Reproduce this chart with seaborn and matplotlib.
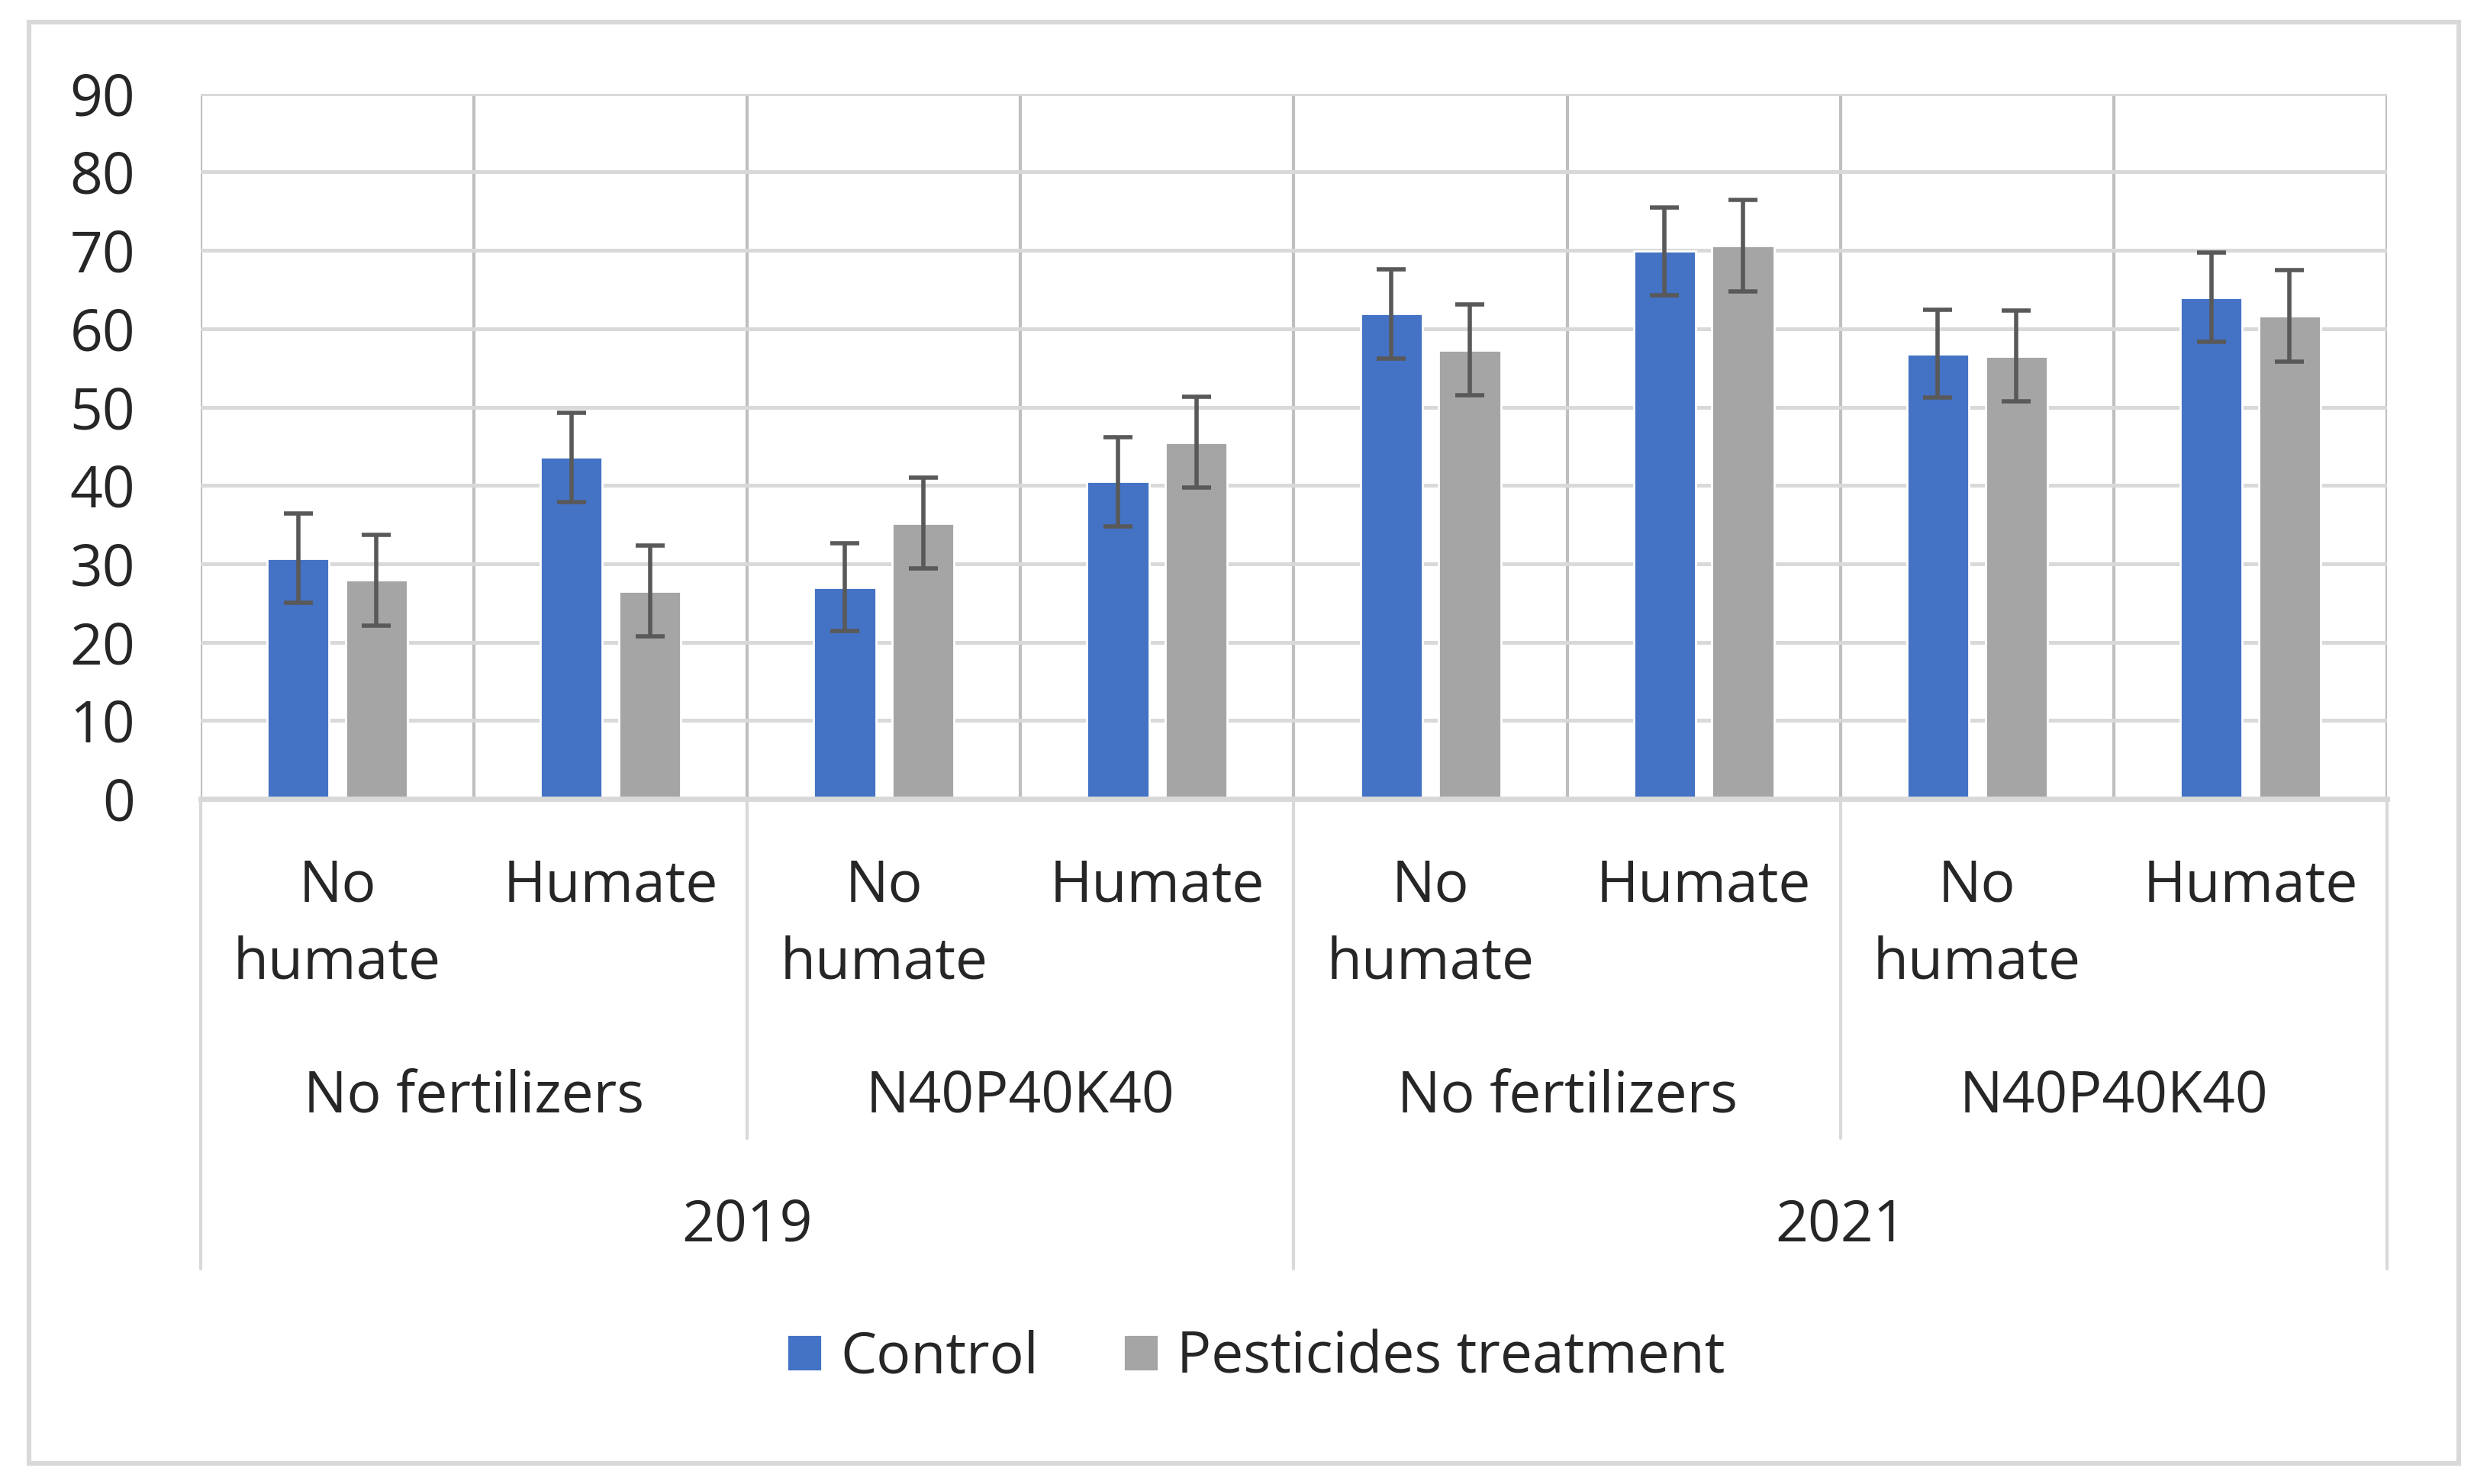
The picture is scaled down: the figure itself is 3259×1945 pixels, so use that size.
import numpy as np
import pandas as pd
import seaborn as sns
import matplotlib.pyplot as plt
from matplotlib.patches import Rectangle
import matplotlib.transforms as mtransforms

# data
years = ["2019", "2021"]
fertilizers = ["No fertilizers", "N40P40K40", "No fertilizers", "N40P40K40"]
humate_labels = ["No\nhumate", "Humate"] * 4
series = ["Control", "Pesticides treatment"]
control = [30.7, 43.6, 27.0, 40.5, 61.9, 69.9, 56.8, 64.0]
pesticides = [27.9, 26.5, 35.2, 45.5, 57.3, 70.6, 56.5, 61.6]
control_err = [5.7, 5.7, 5.6, 5.7, 5.7, 5.6, 5.6, 5.7]
pesticides_err = [5.8, 5.8, 5.75, 5.8, 5.8, 5.8, 5.8, 5.85]

slots = ["s%d" % i for i in range(len(control))]
df = pd.DataFrame({
    "slot": slots * 2,
    "value": control + pesticides,
    "series": [series[0]] * len(control) + [series[1]] * len(pesticides),
})

sns.set_theme(style="white")
plt.rcParams['font.family'] = ['Open Sans', 'DejaVu Sans']
fs = 27

fig = plt.figure(figsize=(16.295, 9.725), dpi=200)
ax = fig.add_axes([0.0807, 0.4617, 0.8791, 0.4752])

sns.barplot(data=df, x="slot", y="value", hue="series", order=slots, hue_order=series,
            palette=["#4472C4", "#A5A5A5"], width=0.574, gap=0.21, errorbar=None,
            saturation=1, ax=ax)

# error bars on top of each bar
for cont, err in zip(ax.containers, [control_err, pesticides_err]):
    xs = [b.get_x() + b.get_width() / 2 for b in cont]
    ys = [b.get_height() for b in cont]
    ax.errorbar(xs, ys, yerr=err, fmt='none', ecolor='#595959', elinewidth=2.0,
                capsize=6.7, capthick=2.0, zorder=3)

# legend below the chart
handles, labels = ax.get_legend_handles_labels()
ax.get_legend().remove()
fig.legend(handles, labels, loc='center', bbox_to_anchor=(0.505, 0.085), ncol=2,
           frameon=False, fontsize=fs, handlelength=0.61, handleheight=0.61,
           handletextpad=0.33, columnspacing=1.48)

# axes, grid
ax.set_xlim(-0.5, 7.5)
ax.set_ylim(0, 90)
ax.set_yticks(range(0, 91, 10))
ax.set_axisbelow(True)
ax.yaxis.grid(True, color='#d9d9d9', lw=1.8)
ax.set_xticks(np.arange(-0.5, 7.6, 0.5), minor=True)
ax.xaxis.grid(True, which='minor', color='#bfbfbf', lw=1.5)
ax.xaxis.grid(False, which='major')
ax.set_xticks(range(8))
ax.set_xticklabels(humate_labels)
for lab in ax.get_xticklabels():
    lab.set_linespacing(1.45)
ax.tick_params(axis='x', which='both', length=0, pad=28, labelsize=fs)
ax.tick_params(axis='y', length=0, pad=31, labelsize=fs)
ax.set_xlabel("")
ax.set_ylabel("")
for s in ["left", "top", "right"]:
    ax.spines[s].set_visible(False)
ax.spines["bottom"].set_color('#d9d9d9')
ax.spines["bottom"].set_linewidth(2.5)

# category separators below the axis
for x in [-0.5, 3.5, 7.5]:
    ax.axvline(x, ymin=-0.667, ymax=0, color='#d9d9d9', lw=1.5, clip_on=False)
for x in [1.5, 5.5]:
    ax.axvline(x, ymin=-0.482, ymax=0, color='#d9d9d9', lw=1.5, clip_on=False)

trans = mtransforms.blended_transform_factory(ax.transData, ax.transAxes)
for i, f in enumerate(fertilizers):
    ax.text(2 * i + 0.5, -0.423, f, transform=trans, ha='center', va='center', fontsize=fs)
for i, y in enumerate(years):
    ax.text(4 * i + 1.5, -0.606, y, transform=trans, ha='center', va='center', fontsize=fs)

# outer chart border
fig.add_artist(Rectangle((0.0118, 0.014), 0.977, 0.971, transform=fig.transFigure,
                         fill=False, ec='#d9d9d9', lw=2.2))

fig.savefig('out.png', dpi=200)
